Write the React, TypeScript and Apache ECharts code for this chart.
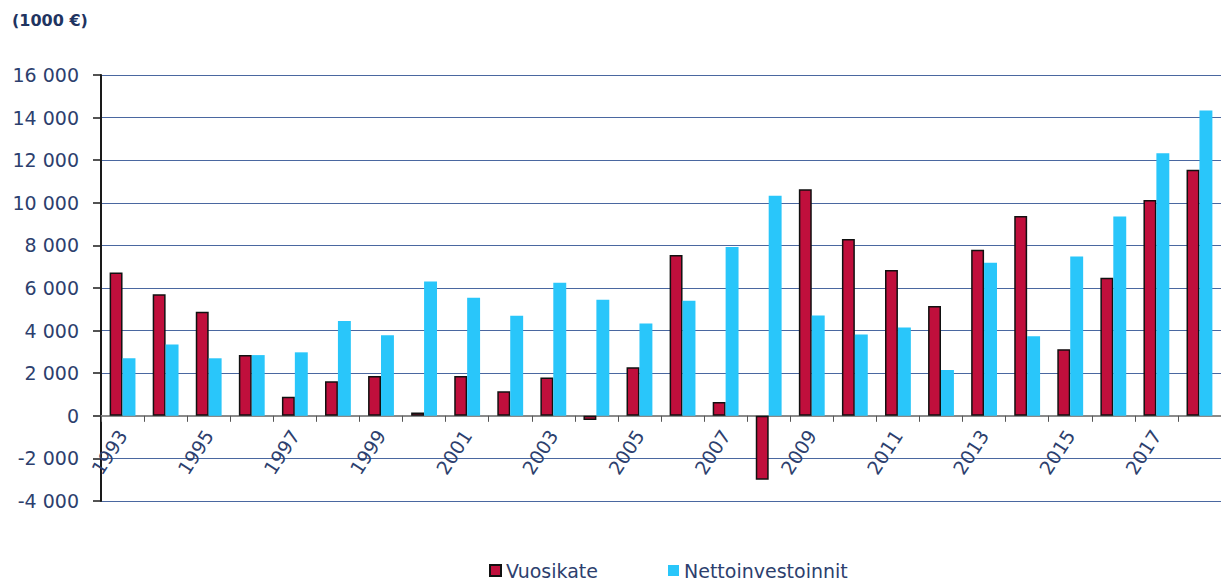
import React, { useEffect, useRef } from "react";
import * as echarts from "echarts";

const years = [
  "1993", "1994", "1995", "1996", "1997", "1998", "1999", "2000", "2001", "2002",
  "2003", "2004", "2005", "2006", "2007", "2008", "2009", "2010", "2011", "2012",
  "2013", "2014", "2015", "2016", "2017", "2018",
];
const vuosikate = [
  6730, 5710, 4880, 2860, 900, 1620, 1870, 150, 1870, 1150,
  1800, -200, 2280, 7550, 650, -3000, 10640, 8300, 6850, 5150,
  7790, 9380, 3130, 6480, 10130, 11550,
];
const nettoinvestoinnit = [
  2700, 3350, 2700, 2850, 2980, 4450, 3780, 6300, 5540, 4700,
  6250, 5450, 4330, 5400, 7930, 10330, 4710, 3820, 4150, 2150,
  7180, 3730, 7480, 9360, 12330, 14330,
];
const seriesNames = ["Vuosikate", "Nettoinvestoinnit"];
const unitLabel = "(1000 €)";
const yMin = -4000;
const yMax = 16000;
const yStep = 2000;

const navy = "#2D3F6E";
const font = "'DejaVu Sans', sans-serif";

function fmt(v: number): string {
  const s = String(Math.abs(v)).replace(/\B(?=(\d{3})+(?!\d))/g, " ");
  return v < 0 ? "-" + s : s;
}

export default function App() {
  const ref = useRef<HTMLDivElement>(null);
  useEffect(() => {
    if (!ref.current) return;
    const chart = echarts.init(ref.current, undefined, { renderer: "svg" });
    const gridTop = 75;
    const gridBottom = 81;
    const plotH = 582 - gridTop - gridBottom;
    const zeroOffset = -(plotH * (0 - yMin)) / (yMax - yMin);
    chart.setOption({
      animation: false,
      backgroundColor: "#ffffff",
      textStyle: { fontFamily: font },
      graphic: [
        {
          type: "text",
          left: 12,
          top: 12,
          style: {
            text: unitLabel,
            fontSize: 16,
            fontWeight: "bold",
            fill: "#1F3461",
            fontFamily: font,
          },
        },
      ],
      legend: {
        data: seriesNames,
        left: 484,
        top: 556,
        icon: "rect",
        itemWidth: 11,
        itemHeight: 11,
        itemGap: 70,
        textStyle: { fontSize: 19, color: navy, fontFamily: font },
      },
      grid: { left: 101, right: -11, top: gridTop, bottom: gridBottom, containLabel: false },
      xAxis: {
        type: "category",
        data: years,
        position: "bottom",
        offset: zeroOffset,
        axisLine: { onZero: false, lineStyle: { color: "#8a8a8a", width: 2 } },
        axisTick: { show: true, interval: 0, length: 6, lineStyle: { color: "#555", width: 1 } },
        axisLabel: {
          interval: 1,
          rotate: 57,
          margin: 16,
          fontSize: 19,
          color: navy,
          fontFamily: font,
        },
        splitLine: { show: false },
      },
      yAxis: {
        type: "value",
        min: yMin,
        max: yMax,
        interval: yStep,
        axisLine: { show: true, lineStyle: { color: "#1a1a1a", width: 2 } },
        axisTick: { show: true, length: 8, lineStyle: { color: "#1a1a1a", width: 1.5 } },
        axisLabel: {
          formatter: (v: number) => fmt(v),
          fontSize: 19,
          margin: 22,
          color: navy,
          fontFamily: font,
        },
        splitLine: { show: true, lineStyle: { color: "#4A67A0", width: 1 } },
      },
      series: [
        {
          name: seriesNames[0],
          type: "bar",
          data: vuosikate,
          barGap: "0%",
          barCategoryGap: "40%",
          itemStyle: { color: "#C00F3C", borderColor: "#111", borderWidth: 1.5 },
        },
        {
          name: seriesNames[1],
          type: "bar",
          data: nettoinvestoinnit,
          barGap: "0%",
          barCategoryGap: "40%",
          itemStyle: { color: "#29C6FA" },
        },
      ],
    });
    return () => chart.dispose();
  }, []);
  return (
    <div
      ref={ref}
      style={{ position: "fixed", left: 0, top: 0, width: 1221, height: 582, overflow: "hidden" }}
    />
  );
}
